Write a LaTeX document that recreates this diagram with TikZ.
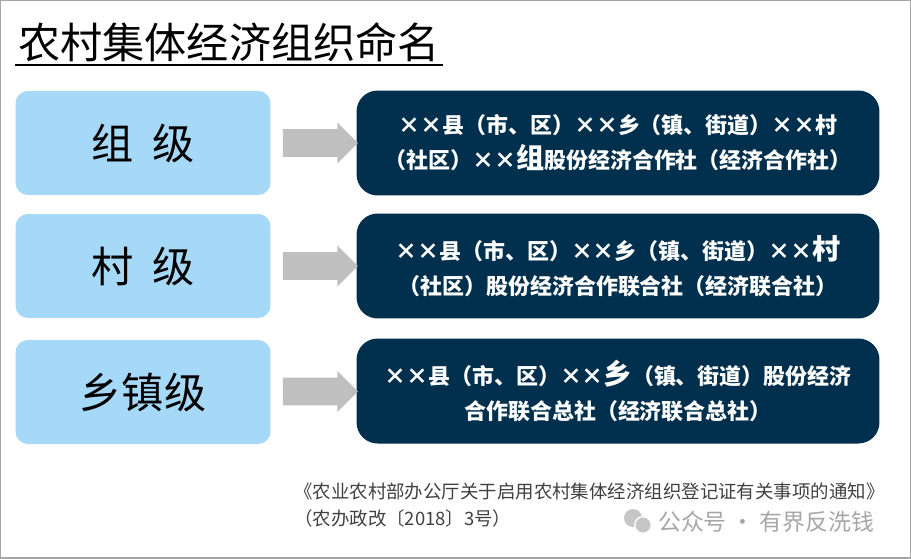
\documentclass[tikz,border=0pt]{standalone}
\usepackage{fontspec}
\setmainfont{Noto Sans CJK SC}
\usepackage{tikz}
\usetikzlibrary{shapes.arrows}
\definecolor{lightblue}{RGB}{166,216,248}
\definecolor{navy}{RGB}{0,48,77}
\definecolor{arrowgray}{RGB}{191,191,191}
\tikzset{%
  levelbox/.style={fill=lightblue, rounded corners=7pt, minimum width=5.1cm, minimum height=2.08cm, font=\fontsize{24}{28}\selectfont},
  namebox/.style={fill=navy, rounded corners=12pt, minimum width=10.46cm, minimum height=2.1cm, text=white, align=center, font=\bfseries\fontsize{12.5}{20}\selectfont},
  myarrow/.style={single arrow, fill=arrowgray, minimum height=1.5cm, minimum width=0.82cm, single arrow head extend=0.1cm, inner sep=0.2cm}
}
\newcommand{\bigch}[1]{{\fontsize{16}{20}\selectfont #1}}
\begin{document}
\begin{tikzpicture}[x=0.02cm, y=-0.02cm]
  \useasboundingbox (0,0) rectangle (911,558);
  \draw[gray!70, line width=1.2pt] (0,0) rectangle (911,558);
  \node[anchor=west, font=\fontsize{24}{28}\selectfont] (title) at (12,42) {农村集体经济组织命名};
  \draw[line width=1pt] (15,65) -- (443,65);
  % levels
  \node[levelbox] (l1) at (143,143) {组\ \ 级};
  \node[levelbox] (l2) at (143,266) {村\ \ 级};
  \node[levelbox] (l3) at (143,392) {乡镇级};
  \node[namebox] (n1) at (618,143) {××县（市、区）××乡（镇、街道）××村\\（社区）××\bigch{组}股份经济合作社（经济合作社）};
  \node[namebox] (n2) at (618,266) {××县（市、区）××乡（镇、街道）××\bigch{村}\\（社区）股份经济合作联合社（经济联合社）};
  \node[namebox] (n3) at (618,391) {××县（市、区）××\bigch{乡}（镇、街道）股份经济\\合作联合总社（经济联合总社）};
  \foreach \i in {1,2,3}
    \path (l\i.east) -- (n\i.west) node[midway, myarrow] {};
  % source
  \node[anchor=north west, align=left, text=black!75, font=\fontsize{10.5}{15}\selectfont] (src) at (288,477) {《农业农村部办公厅关于启用农村集体经济组织登记证有关事项的通知》\\（农办政改〔2018〕3号）};
  % watermark
  \fill[gray!45] (633,518) circle (9);
  \fill[white] (643,525) circle (9);
  \fill[gray!45] (643,525) circle (7.5);
  \node[anchor=west, text=gray!70, font=\fontsize{13}{16}\selectfont] (wm) at (652,522) {公众号 · 有界反洗钱};
\end{tikzpicture}
\end{document}
